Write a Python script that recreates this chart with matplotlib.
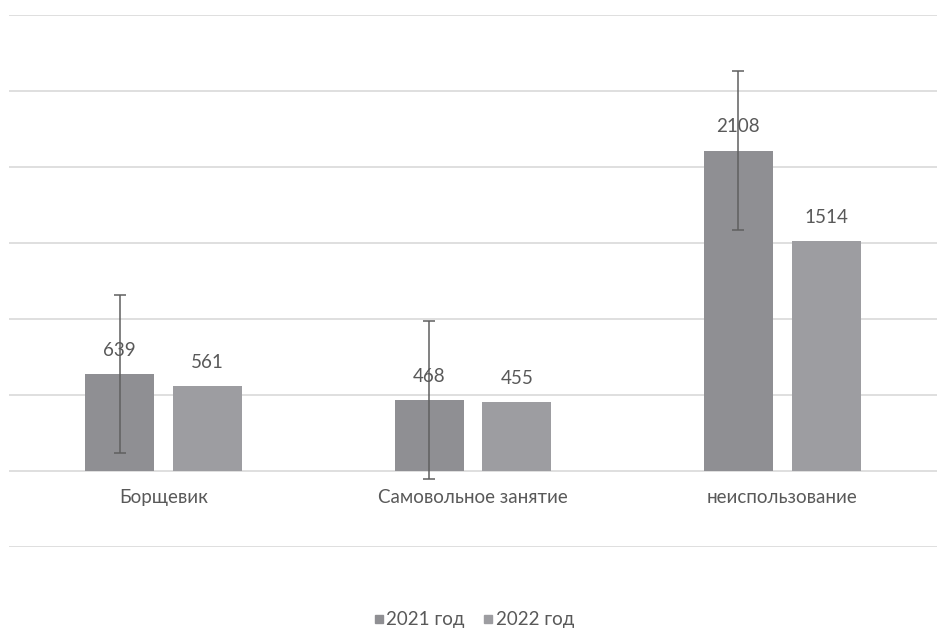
import numpy as np
import matplotlib.pyplot as plt
from matplotlib.lines import Line2D

# Данные
categories = ['Борщевик', 'Самовольное занятие', 'неиспользование']
vals_2021 = [639, 468, 2108]
vals_2022 = [561, 455, 1514]
err_2021 = [520.5, 520.5, 520.5]   # стандартная ошибка (как в Excel)
series_names = ['2021 год', '2022 год']

col_2021 = '#8f8f93'
col_2022 = '#9d9da1'
txt_col = '#595959'
grid_col = '#d9d9d9'
fs = 13.5

plt.rcParams['font.family'] = ['Lato', 'DejaVu Sans']

fig = plt.figure(figsize=(9.53, 6.3), dpi=100)
ax = fig.add_axes([9/953, 1 - 547/630, 928/953, (547 - 15)/630])

x = np.arange(len(categories))
w = 0.223
off = 0.142

ax.bar(x - off, vals_2021, w, color=col_2021, zorder=2)
ax.bar(x + off, vals_2022, w, color=col_2022, zorder=2)
ax.errorbar(x - off, vals_2021, yerr=err_2021, fmt='none', ecolor='#5f5f5f',
            elinewidth=1.1, capsize=4.5, capthick=1.1, zorder=3)

# подписи значений
for xs, vs in ((x - off, vals_2021), (x + off, vals_2022)):
    for xi, v in zip(xs, vs):
        ax.annotate(str(v), (xi, v), xytext=(0, 17), textcoords='offset points',
                    ha='center', va='center', fontsize=fs, color=txt_col, zorder=4)

ax.set_xlim(-0.5, 2.5)
ax.set_ylim(-500, 3000)
ax.set_yticks(np.arange(-500, 3001, 500))
ax.yaxis.grid(True, color=grid_col, linewidth=1.2, zorder=0)
ax.set_axisbelow(True)
ax.tick_params(axis='y', length=0, labelleft=False)
ax.set_xticks([])
for s in ax.spines.values():
    s.set_visible(False)

# подписи категорий у нулевой линии
for xi, c in zip(x, categories):
    ax.annotate(c, (xi, 0), xytext=(0, -19), textcoords='offset points',
                ha='center', va='center', fontsize=fs, color=txt_col)

handles = [Line2D([], [], marker='s', linestyle='none', markersize=6,
                  markerfacecolor=col_2021, markeredgecolor=col_2021),
           Line2D([], [], marker='s', linestyle='none', markersize=6,
                  markerfacecolor=col_2022, markeredgecolor=col_2022)]
leg = fig.legend(handles, series_names, loc='center', bbox_to_anchor=(473/953, 1 - 620/630),
                 ncol=2, frameon=False, fontsize=fs, handletextpad=0.05,
                 columnspacing=0.9, handlelength=0.7)
for t in leg.get_texts():
    t.set_color(txt_col)

fig.savefig('out.png', dpi=100)
